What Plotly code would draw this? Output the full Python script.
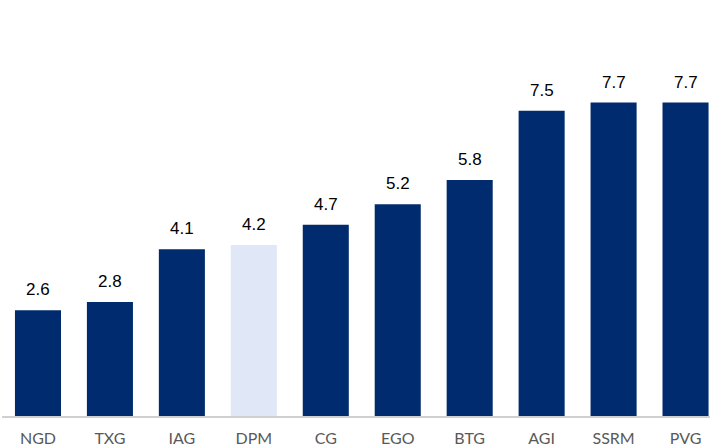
import plotly.graph_objects as go

categories = ["NGD", "TXG", "IAG", "DPM", "CG", "EGO", "BTG", "AGI", "SSRM", "PVG"]
values = [2.6, 2.8, 4.1, 4.2, 4.7, 5.2, 5.8, 7.5, 7.7, 7.7]
labels = ["2.6", "2.8", "4.1", "4.2", "4.7", "5.2", "5.8", "7.5", "7.7", "7.7"]
highlight = "DPM"

navy = "#002B6E"
light = "#E0E7F6"
colors = [light if c == highlight else navy for c in categories]

fig = go.Figure(go.Bar(
    x=categories, y=values,
    marker=dict(color=colors, line=dict(width=0)),
    width=0.64, cliponaxis=False, hoverinfo="skip",
))

for c, v, l in zip(categories, values, labels):
    fig.add_annotation(x=c, y=v, text=l, showarrow=False, yanchor="bottom",
                       yshift=9,
                       font=dict(family="Liberation Sans, Arial, sans-serif", size=17, color="#000000"))

fig.update_layout(
    width=710, height=447,
    margin=dict(l=2, r=0, t=9, b=31),
    plot_bgcolor="white", paper_bgcolor="white",
    showlegend=False,
    xaxis=dict(range=[-0.5, 9.34], showgrid=False, zeroline=False,
               showline=True, linecolor="#D0D0D0", linewidth=2,
               ticks="", ticklabelstandoff=7,
               tickfont=dict(family="Lato, Open Sans, sans-serif", size=16, color="#595959")),
    yaxis=dict(range=[0, 10], visible=False, showgrid=False, zeroline=False),
)

fig.write_html("out.html", config={"displayModeBar": False},
               post_script="document.body.style.margin='0';")
